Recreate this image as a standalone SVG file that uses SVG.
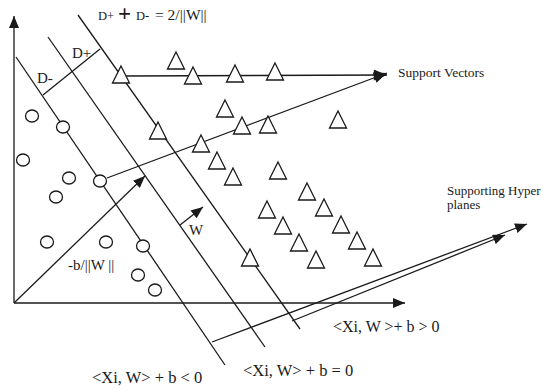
<svg xmlns="http://www.w3.org/2000/svg" xmlns:xlink="http://www.w3.org/1999/xlink" width="543" height="390" viewBox="0 0 543 390">
<style>
  .ln{stroke:#1a1a1a;stroke-width:1.3;fill:none}
  .pt{stroke:#1a1a1a;stroke-width:1.3;fill:#fff}
  text{font-family:"Liberation Serif","Times New Roman",serif;fill:#1a1a1a}
</style>
<defs>
  <marker id="ah" viewBox="0 0 12 10" refX="12" refY="5" markerWidth="12" markerHeight="10" markerUnits="userSpaceOnUse" orient="auto">
    <path d="M0,0 L12,5 L0,10 Z" fill="#1a1a1a"/>
  </marker>
  <marker id="ahs" viewBox="0 0 12 10" refX="12" refY="5" markerWidth="14" markerHeight="11" markerUnits="userSpaceOnUse" orient="auto">
    <path d="M0,0 L12,5 L0,10 Z" fill="#1a1a1a"/>
  </marker>
  <path id="tri" d="M0,0 L8.5,17 L-8.5,17 Z"/>
  <ellipse id="cir" cx="0" cy="0" rx="6.5" ry="6"/>
</defs>
<rect width="543" height="390" fill="#fff"/>

<g id="connectors">
  <line class="ln" x1="14" y1="303" x2="14" y2="16" marker-end="url(#ah)"/>
  <line class="ln" x1="14" y1="303" x2="405" y2="303" marker-end="url(#ah)"/>
  <line class="ln" x1="16" y1="57" x2="225" y2="365"/>
  <line class="ln" x1="48" y1="37" x2="265" y2="347"/>
  <line class="ln" x1="78" y1="15" x2="300" y2="329"/>
  <line class="ln" x1="43" y1="95" x2="100" y2="49"/>
  <line class="ln" x1="14" y1="303" x2="145" y2="176" marker-end="url(#ah)"/>
  <line class="ln" x1="180" y1="225" x2="203" y2="207" marker-end="url(#ah)"/>
  <line class="ln" x1="126" y1="76" x2="387" y2="75" marker-end="url(#ahs)"/>
  <line class="ln" x1="107" y1="178" x2="387" y2="73" marker-end="url(#ahs)"/>
  <line class="ln" x1="212" y1="342" x2="527" y2="224" marker-end="url(#ah)"/>
  <line class="ln" x1="292" y1="321" x2="505" y2="235" marker-end="url(#ah)"/>
</g>

<g id="class-neg">
  <g id="c1"><use href="#cir" class="pt" x="32" y="116"/></g>
  <g id="c2"><use href="#cir" class="pt" x="63" y="127"/></g>
  <g id="c3"><use href="#cir" class="pt" x="23" y="160"/></g>
  <g id="c4"><use href="#cir" class="pt" x="69" y="178"/></g>
  <g id="c5"><use href="#cir" class="pt" x="100" y="181"/></g>
  <g id="c6"><use href="#cir" class="pt" x="56" y="197"/></g>
  <g id="c7"><use href="#cir" class="pt" x="47" y="242"/></g>
  <g id="c8"><use href="#cir" class="pt" x="106" y="242"/></g>
  <g id="c9"><use href="#cir" class="pt" x="143" y="246"/></g>
  <g id="c10"><use href="#cir" class="pt" x="138" y="275"/></g>
  <g id="c11"><use href="#cir" class="pt" x="155" y="290"/></g>
</g>

<g id="class-pos">
  <g id="t1"><use href="#tri" class="pt" x="121" y="66"/></g>
  <g id="t2"><use href="#tri" class="pt" x="176" y="52"/></g>
  <g id="t3"><use href="#tri" class="pt" x="193" y="67"/></g>
  <g id="t4"><use href="#tri" class="pt" x="235" y="65"/></g>
  <g id="t5"><use href="#tri" class="pt" x="275" y="63"/></g>
  <g id="t6"><use href="#tri" class="pt" x="225" y="100"/></g>
  <g id="t7"><use href="#tri" class="pt" x="242" y="117"/></g>
  <g id="t8"><use href="#tri" class="pt" x="268" y="116"/></g>
  <g id="t9"><use href="#tri" class="pt" x="338" y="111"/></g>
  <g id="t10"><use href="#tri" class="pt" x="158" y="122"/></g>
  <g id="t11"><use href="#tri" class="pt" x="201" y="135"/></g>
  <g id="t12"><use href="#tri" class="pt" x="217" y="152"/></g>
  <g id="t13"><use href="#tri" class="pt" x="233" y="168"/></g>
  <g id="t14"><use href="#tri" class="pt" x="278" y="162"/></g>
  <g id="t15"><use href="#tri" class="pt" x="307" y="183"/></g>
  <g id="t16"><use href="#tri" class="pt" x="267" y="201"/></g>
  <g id="t17"><use href="#tri" class="pt" x="324" y="199"/></g>
  <g id="t18"><use href="#tri" class="pt" x="283" y="217"/></g>
  <g id="t19"><use href="#tri" class="pt" x="341" y="216"/></g>
  <g id="t20"><use href="#tri" class="pt" x="299" y="234"/></g>
  <g id="t21"><use href="#tri" class="pt" x="357" y="232"/></g>
  <g id="t22"><use href="#tri" class="pt" x="316" y="251"/></g>
  <g id="t23"><use href="#tri" class="pt" x="373" y="249"/></g>
  <g id="t24"><use href="#tri" class="pt" x="250" y="249"/></g>
</g>

<g id="labels">
  <text y="20"><tspan x="98" font-size="12.5">D+</tspan><tspan x="118" y="21" font-size="23" font-weight="bold">+</tspan><tspan x="136" y="20" font-size="12.5">D-</tspan><tspan x="155" font-size="15.5">= 2/||W||</tspan></text>
  <text x="72" y="58" font-size="15">D+</text>
  <text x="37" y="83" font-size="15">D-</text>
  <text x="68" y="270" font-size="15">-b/||W ||</text>
  <text x="189" y="235" font-size="15">W</text>
  <text x="398" y="77" font-size="13.5">Support Vectors</text>
  <text x="447" y="195" font-size="13">Supporting Hyper</text>
  <text x="447" y="209" font-size="13">planes</text>
  <text x="333" y="332" font-size="16">&lt;Xi, W &gt;+ b &gt; 0</text>
  <text x="243" y="376" font-size="16.5">&lt;Xi, W&gt; + b = 0</text>
  <text x="92" y="383" font-size="16.5">&lt;Xi, W&gt; + b &lt; 0</text>
</g>
</svg>
